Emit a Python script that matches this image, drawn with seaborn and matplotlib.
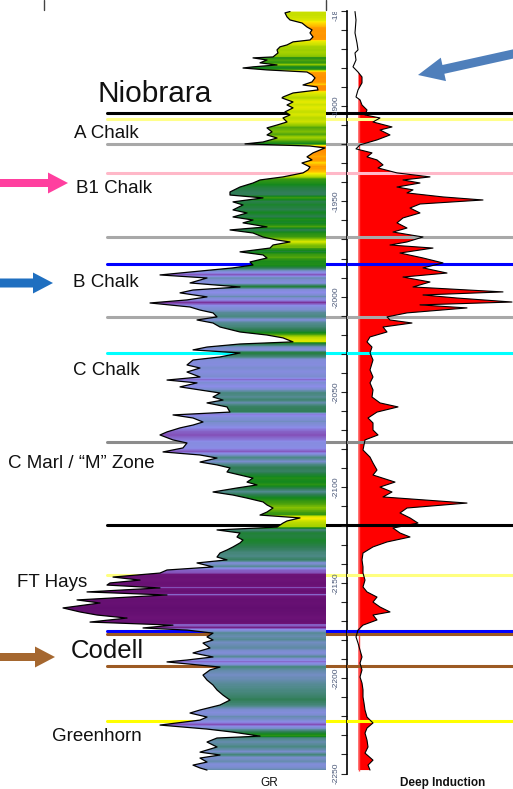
import numpy as np
import pandas as pd
import seaborn as sns
import matplotlib
matplotlib.use("Agg")
from matplotlib import pyplot as plt
from matplotlib.colors import LinearSegmentedColormap, Normalize
from matplotlib.patches import FancyArrow
from matplotlib.ticker import MultipleLocator
from matplotlib.transforms import Bbox, TransformedBbox

sns.set_style("white")
plt.rcParams['font.family'] = ['Liberation Sans', 'DejaVu Sans']
plt.rcParams['axes.unicode_minus'] = False

# gamma ray log (depth ft, API)
gr_depth = [1850.5, 1851.2, 1853.3, 1854.9, 1856.5, 1858.6, 1860.1, 1861.7, 1863.8, 1865.4,
            1866.4, 1868.0, 1869.0, 1870.6, 1872.2, 1874.3, 1874.8, 1875.9, 1877.4, 1878.5,
            1879.5, 1880.1, 1881.1, 1882.2, 1883.7, 1885.3, 1887.4, 1889.0, 1890.0, 1891.6,
            1893.2, 1895.3, 1895.8, 1897.9, 1899.5, 1901.0, 1903.1, 1904.7, 1906.3, 1908.4,
            1910.0, 1911.5, 1913.6, 1915.2, 1916.8, 1918.9, 1919.9, 1921.0, 1922.0, 1924.6,
            1926.7, 1928.3, 1929.9, 1932.0, 1933.5, 1935.1, 1937.2, 1938.8, 1940.4, 1942.5,
            1945.1, 1946.7, 1948.2, 1950.3, 1951.9, 1954.5, 1956.1, 1958.2, 1959.8, 1961.3,
            1963.4, 1965.0, 1966.6, 1968.7, 1970.3, 1971.3, 1972.9, 1974.5, 1976.5, 1978.1,
            1979.7, 1981.8, 1983.4, 1984.9, 1988.6, 1990.2, 1992.8, 1994.9, 1996.5, 1998.0,
            2000.1, 2001.7, 2003.3, 2005.4, 2007.0, 2008.5, 2010.6, 2012.2, 2013.8, 2015.9,
            2018.5, 2020.1, 2021.6, 2023.7, 2024.8, 2026.4, 2027.9, 2029.5, 2031.6, 2033.2,
            2035.8, 2037.4, 2039.5, 2042.1, 2043.7, 2045.2, 2047.3, 2048.9, 2050.5, 2052.6,
            2054.2, 2055.7, 2057.8, 2060.5, 2062.0, 2063.6, 2065.7, 2067.3, 2068.8, 2070.9,
            2072.5, 2075.1, 2076.7, 2079.3, 2081.4, 2083.0, 2084.6, 2086.7, 2088.2, 2089.8,
            2091.9, 2093.5, 2095.1, 2097.2, 2098.7, 2100.3, 2102.4, 2104.0, 2105.6, 2107.6,
            2109.2, 2110.8, 2112.9, 2114.5, 2116.0, 2117.6, 2118.7, 2120.8, 2122.3, 2123.9,
            2126.0, 2127.6, 2129.1, 2131.2, 2132.8, 2134.4, 2136.5, 2138.0, 2139.6, 2141.7,
            2143.3, 2144.9, 2147.0, 2148.6, 2150.1, 2151.2, 2152.7, 2154.8, 2156.4, 2159.0,
            2160.6, 2163.2, 2165.3, 2166.9, 2168.5, 2170.6, 2172.2, 2173.7, 2174.8, 2176.4,
            2178.4, 2180.0, 2181.6, 2184.2, 2186.8, 2188.9, 2190.5, 2191.5, 2194.2, 2195.7,
            2198.4, 2201.0, 2203.6, 2206.2, 2208.9, 2211.5, 2214.1, 2216.7, 2218.3, 2220.4,
            2222.0, 2224.6, 2226.7, 2228.3, 2230.4, 2231.4, 2233.5, 2236.1, 2238.8, 2240.3,
            2241.9, 2244.0, 2245.6, 2247.1, 2248.2]
gr_api = [145, 142.5, 143.5, 145, 151, 153.5, 156, 155, 156.5, 155,
          146.5, 143.5, 140, 138.5, 139, 136.5, 126.5, 133.5, 130, 138.5,
          126.5, 121.5, 133.5, 153.5, 156, 157.5, 156, 151.5, 158.5, 159,
          146.5, 141.5, 141, 146.5, 143.5, 146.5, 142.5, 145, 141.5, 143.5,
          138.5, 133.5, 136, 133.5, 138.5, 131.5, 122.5, 155, 162.5, 156.5,
          153.5, 156, 151, 155, 154, 151.5, 141.5, 130, 126.5, 120,
          115, 115, 131.5, 116.5, 121.5, 116.5, 123.5, 116.5, 126.5, 121.5,
          133.5, 115, 126.5, 131.5, 138.5, 145, 136.5, 135, 120, 131.5,
          133.5, 125, 126.5, 116.5, 80, 103.5, 95, 120, 96.5, 90,
          103.5, 93.5, 75, 95, 100, 106.5, 108.5, 98.5, 106.5, 110,
          120, 133.5, 141.5, 146.5, 120, 103.5, 96.5, 120, 110, 96.5,
          93.5, 100, 93.5, 100, 83.5, 98.5, 90, 100, 110, 106.5,
          111.5, 103.5, 113.5, 115, 86.5, 96.5, 101.5, 96.5, 90, 83.5,
          80, 86.5, 93.5, 91.5, 81.5, 100, 108.5, 100, 108.5, 115,
          113.5, 120, 126.5, 123.5, 128.5, 118.5, 106.5, 116.5, 123.5, 131.5,
          133.5, 136.5, 133.5, 130, 150, 143.5, 141.5, 138.5, 108.5, 120,
          118.5, 121.5, 120, 116.5, 113.5, 110, 108.5, 113.5, 98.5, 106.5,
          83.5, 80, 56.5, 70, 55, 53.5, 80, 43.5, 83.5, 38.5,
          50, 31.5, 40, 48.5, 63.5, 45, 86.5, 71.5, 93.5, 106.5,
          103.5, 106.5, 101.5, 105, 96.5, 106.5, 93.5, 83.5, 110, 105,
          101.5, 103.5, 106.5, 108.5, 111.5, 115, 110, 100, 95, 103.5,
          100, 80, 103.5, 116.5, 130, 108.5, 103.5, 108.5, 100, 110,
          100, 103.5, 96.5, 100, 103.5]

# deep induction log (depth ft, ohm.m)
res_depth = [1850.5, 1854.9, 1861.7, 1867.0, 1870.6, 1872.2, 1875.9, 1879.5, 1882.2, 1884.8,
             1887.9, 1891.6, 1895.3, 1896.8, 1899.5, 1902.1, 1904.7, 1906.3, 1908.4, 1911.0,
             1912.6, 1915.2, 1917.8, 1920.4, 1922.5, 1924.6, 1926.7, 1928.3, 1930.9, 1932.5,
             1935.1, 1937.2, 1938.8, 1940.4, 1942.5, 1944.0, 1945.6, 1947.7, 1949.3, 1951.4,
             1953.5, 1956.1, 1958.7, 1961.3, 1964.0, 1966.1, 1968.7, 1971.3, 1972.9, 1974.5,
             1977.1, 1979.7, 1982.3, 1984.9, 1987.6, 1989.7, 1992.3, 1994.9, 1997.5, 1999.1,
             2000.7, 2002.8, 2004.3, 2005.9, 2008.5, 2010.6, 2012.2, 2013.8, 2015.9, 2018.5,
             2021.1, 2023.7, 2026.4, 2029.5, 2033.2, 2038.4, 2042.1, 2045.2, 2048.9, 2052.6,
             2055.7, 2057.8, 2060.5, 2063.6, 2066.2, 2069.9, 2072.5, 2075.1, 2080.4, 2084.1,
             2087.2, 2090.9, 2093.5, 2097.2, 2099.8, 2102.4, 2105.0, 2108.2, 2110.8, 2113.4,
             2116.0, 2118.7, 2121.3, 2123.9, 2126.0, 2128.6, 2131.2, 2134.4, 2138.0, 2141.7,
             2144.9, 2148.6, 2152.2, 2154.8, 2157.5, 2160.1, 2162.7, 2165.3, 2166.9, 2169.5,
             2172.2, 2174.8, 2178.4, 2181.6, 2185.3, 2188.9, 2192.1, 2195.7, 2199.4, 2202.6,
             2206.2, 2209.9, 2213.0, 2216.7, 2220.4, 2223.5, 2226.2, 2228.8, 2232.5, 2236.1,
             2239.3, 2243.0, 2245.6, 2248.2]
res_ohm = [3.5, 4, 3.5, 4.5, 5, 3.5, 4, 2.5, 5, 7,
           7, 5, 4, 6, 7, 9.5, 8.5, 16, 12.5, 22,
           16, 21, 14.5, 6, 4, 12, 9.5, 14.5, 17.5, 15,
           24.5, 41, 27.5, 36, 24.5, 32.5, 29.5, 47.5, 67.5, 36,
           31, 36, 27.5, 24.5, 29.5, 22.5, 37.5, 29.5, 21, 42.5,
           26, 37.5, 47.5, 37.5, 49.5, 27.5, 41, 32.5, 77.5, 37.5,
           54.5, 82, 36, 59.5, 29.5, 19.5, 21, 32, 17.5, 19.5,
           11, 9.5, 12, 11, 12.5, 11, 12.5, 11, 12.5, 12,
           16, 25, 14.5, 10, 12.5, 12.5, 15, 8.5, 7.5, 11,
           12.5, 14.5, 12.5, 23.5, 16, 22, 17.5, 59.5, 29.5, 26,
           31, 35, 22.5, 26, 31, 19.5, 12.5, 7.5, 7, 7.5,
           7.5, 8.5, 7.5, 9.5, 14.5, 12.5, 16, 21, 12.5, 14.5,
           7.5, 5, 4, 5, 6, 7, 6, 7, 6, 7,
           7.5, 7.5, 8, 8.5, 9.5, 12.5, 9.5, 8.5, 9.5, 10,
           8.5, 12.5, 10, 11]

# formation tops (depth ft) and their line colours
top_depth = [1903.8, 1906.8, 1920.1, 1935.3, 1968.8, 1982.9, 2010.5, 2029.4,
             2076.3, 2119.7, 2145.9, 2175.3, 2176.7, 2193.5, 2222.5]
top_color = ['#000000', '#ffff8a', '#a8a8a8', '#ffb8c8', '#a8a8a8', '#0000ff', '#a8a8a8', '#00ffff',
             '#8c8c8c', '#000000', '#ffff80', '#0000ff', '#9c5a23', '#9c5a23', '#ffff00']

gr_max = 163
ind_cut = 5.25

df_gr = pd.DataFrame({'GR': gr_api, 'elev': -np.array(gr_depth)})
df_res = pd.DataFrame({'RD': res_ohm, 'elev': -np.array(res_depth)})

W, H = 513, 789
fig = plt.figure(figsize=(W / 100, H / 100), dpi=100)
y_top, y_bot = 10.6, 773.5
bottom = (H - y_bot) / H
height = (y_bot - y_top) / H

# ---- GR track
ax_gr = fig.add_axes([0, bottom, 347 / W, height])
ax_gr.set_axis_off()
gr_cmap = LinearSegmentedColormap.from_list('gr', [
    (0.0, '#5a0a6a'), (70 / gr_max, '#6e1478'), (80 / gr_max, '#8450b8'),
    (90 / gr_max, '#8c8ce8'), (100 / gr_max, '#7c8ed0'), (108 / gr_max, '#4e8a88'),
    (116 / gr_max, '#2e7d52'), (124 / gr_max, '#15881e'), (132 / gr_max, '#3c9a10'),
    (138 / gr_max, '#99cc00'), (145 / gr_max, '#d8e600'), (150 / gr_max, '#ffee00'),
    (155 / gr_max, '#ff9a00'), (1.0, '#ff8000')])
poly = ax_gr.fill_betweenx(df_gr['elev'], df_gr['GR'], gr_max, facecolor='none', edgecolor='none')
fine_d = np.linspace(gr_depth[0], gr_depth[-1], 1500)
vals = np.interp(fine_d, gr_depth, gr_api)
img = ax_gr.imshow(vals[:, None], extent=(0, gr_max, -gr_depth[-1], -gr_depth[0]),
                   aspect='auto', cmap=gr_cmap, norm=Normalize(0, gr_max),
                   origin='upper', interpolation='nearest', zorder=2)
img.set_clip_path(poly.get_paths()[0], transform=ax_gr.transData)
sns.lineplot(data=df_gr, x='GR', y='elev', orient='y', sort=False, estimator=None,
             color='black', lw=0.9, ax=ax_gr, zorder=3)
for d, c in zip(top_depth, top_color):
    ax_gr.axhline(-d, xmin=107 / 347, xmax=1, color=c, lw=2.2, zorder=0.5)
ax_gr.set_xlim(0, 173.5)
ax_gr.set_ylim(-2250, -1850)

# ---- deep induction track (left spine = depth scale)
ax_res = fig.add_axes([347 / W, bottom, 166 / W, height])
ax_res.set_facecolor('none')
ax_res.fill_betweenx(df_res['elev'], ind_cut, df_res['RD'], where=df_res['RD'] >= ind_cut,
                     interpolate=True, color='red', lw=0, zorder=2)
ax_res.vlines(ind_cut, -2248.5, -1897, color='#ff4a4a', lw=1.0, zorder=2.5)
for d, c in zip(top_depth, top_color):
    ax_res.axhline(-d, color=c, lw=2.2, zorder=3)
sns.lineplot(data=df_res, x='RD', y='elev', orient='y', sort=False, estimator=None,
             color='black', lw=0.8, ax=ax_res, zorder=4)
ax_res.set_xlim(-0.5, 82.5)
ax_res.set_ylim(-2250, -1850)
ax_res.set_xlabel('')
ax_res.set_ylabel('')
for s in ['top', 'right', 'bottom']:
    ax_res.spines[s].set_visible(False)
ax_res.spines['left'].set_color('black')
ax_res.spines['left'].set_linewidth(1.2)
ax_res.set_xticks([])
ax_res.yaxis.set_major_locator(MultipleLocator(50))
ax_res.yaxis.set_minor_locator(MultipleLocator(10))
ax_res.tick_params(axis='y', which='both', direction='out', length=4, width=0.8,
                   left=True, labelleft=True, labelsize=6, labelcolor='#4a5878', pad=1)
# depth labels are cut at the top of the track, as in the log print
lab_clip = TransformedBbox(Bbox([[320 / W, 0], [347 / W, (H - 12) / H]]), fig.transFigure)
for lab in ax_res.get_yticklabels():
    lab.set_rotation(90)
    lab.set_va('center')
    lab.set_clip_box(lab_clip)
    lab.set_clip_on(True)

# ---- annotations
ax_ov = fig.add_axes([0, 0, 1, 1], zorder=10)
ax_ov.set_xlim(0, W)
ax_ov.set_ylim(H, 0)
ax_ov.set_axis_off()
ax_ov.plot([44, 44], [0, 10], color='#444444', lw=1)
ax_ov.plot([326, 326], [0, 10], color='#444444', lw=1)

txt = '#111111'
ax_ov.text(97, 102, 'Niobrara', fontsize=21.5, color=txt, va='baseline')
ax_ov.text(74, 138, 'A Chalk', fontsize=13.5, color=txt, va='baseline')
ax_ov.text(76, 193, 'B1 Chalk', fontsize=13.5, color=txt, va='baseline')
ax_ov.text(73, 287, 'B Chalk', fontsize=13.5, color=txt, va='baseline')
ax_ov.text(73, 375, 'C Chalk', fontsize=13.5, color=txt, va='baseline')
ax_ov.text(8, 468, 'C Marl / \u201cM\u201d Zone', fontsize=13.5, color=txt, va='baseline')
ax_ov.text(17, 587, 'FT Hays', fontsize=13.5, color=txt, va='baseline')
ax_ov.text(71, 658, 'Codell', fontsize=18.5, color=txt, va='baseline')
ax_ov.text(52, 741, 'Greenhorn', fontsize=13.5, color=txt, va='baseline')
ax_ov.text(269, 786, 'GR', fontsize=8.5, color=txt, ha='center', va='baseline')
ax_ov.text(443, 786, 'Deep Induction', fontsize=8.5, fontweight='bold', color=txt,
           ha='center', va='baseline')

ax_ov.add_patch(FancyArrow(0, 183, 68, 0, width=8, head_width=21, head_length=20,
                           length_includes_head=True, color='#ff3f9f', lw=0))
ax_ov.add_patch(FancyArrow(0, 283, 53, 0, width=9, head_width=21, head_length=20,
                           length_includes_head=True, color='#1f6fc0', lw=0))
ax_ov.add_patch(FancyArrow(0, 657, 55, 0, width=8, head_width=21, head_length=20,
                           length_includes_head=True, color='#a5672f', lw=0))
ax_ov.add_patch(FancyArrow(522, 52, -104, 23, width=9, head_width=24, head_length=26,
                           length_includes_head=True, color='#4f7fbb', lw=0))

fig.savefig('out.png', dpi=100)
